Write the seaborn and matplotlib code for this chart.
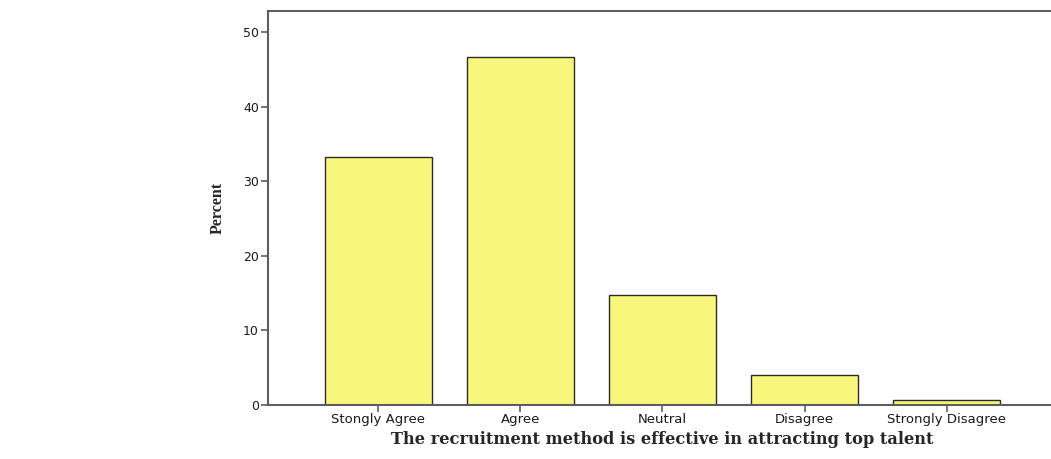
import matplotlib
matplotlib.use("Agg")
import matplotlib.pyplot as plt
import pandas as pd
import seaborn as sns

# Data
CATEGORIES = ["Stongly Agree", "Agree", "Neutral", "Disagree", "Strongly Disagree"]
PERCENT = [33.3, 46.7, 14.7, 4.0, 0.7]
Y_TICKS = [0, 10, 20, 30, 40, 50]

X_LABEL = "The recruitment method is effective in attracting top talent"
Y_LABEL = "Percent"

BAR_COLOR = "#f9f77b"
EDGE_COLOR = "#2b2b2b"
AXIS_COLOR = "#5e5e5e"


def main():
    sns.set_style("white")
    plt.rcParams["font.family"] = ["DejaVu Sans"]

    df = pd.DataFrame({"category": CATEGORIES, "percent": PERCENT})

    fig = plt.figure(figsize=(10.51, 4.59), dpi=100)
    # axes extends a little past the right edge, like the cropped original
    ax = fig.add_axes([0.255, 0.1176, 0.7507, 0.858])

    sns.barplot(
        data=df, x="category", y="percent",
        color=BAR_COLOR, saturation=1, width=0.75,
        edgecolor=EDGE_COLOR, linewidth=1.0,
        ax=ax,
    )

    ax.set_xlim(-0.778, len(CATEGORIES) - 1 + 0.778)
    ax.set_ylim(0, 52.8)
    ax.set_yticks(Y_TICKS)

    for side, sp in ax.spines.items():
        sp.set_color(AXIS_COLOR)
        sp.set_linewidth(1.5)
        sp.set_visible(True)

    ax.tick_params(axis="both", direction="out", length=5, width=1.2,
                   color=AXIS_COLOR, labelcolor="#1a1a1a", bottom=True, left=True)
    ax.tick_params(axis="x", labelsize=9.5, pad=0.5)
    ax.tick_params(axis="y", labelsize=9, pad=1.5)

    ax.set_xlabel(X_LABEL, family=["DejaVu Serif"],
                  fontweight="bold", fontsize=11.7)
    ax.set_ylabel(Y_LABEL, family=["Liberation Serif", "DejaVu Serif"],
                  fontweight="bold", fontsize=11.5)
    ax.xaxis.set_label_coords(0.5, -0.066)
    ax.yaxis.set_label_coords(-0.054, 0.5)

    fig.savefig("out.png", dpi=100)
    plt.close(fig)


if __name__ == "__main__":
    main()
